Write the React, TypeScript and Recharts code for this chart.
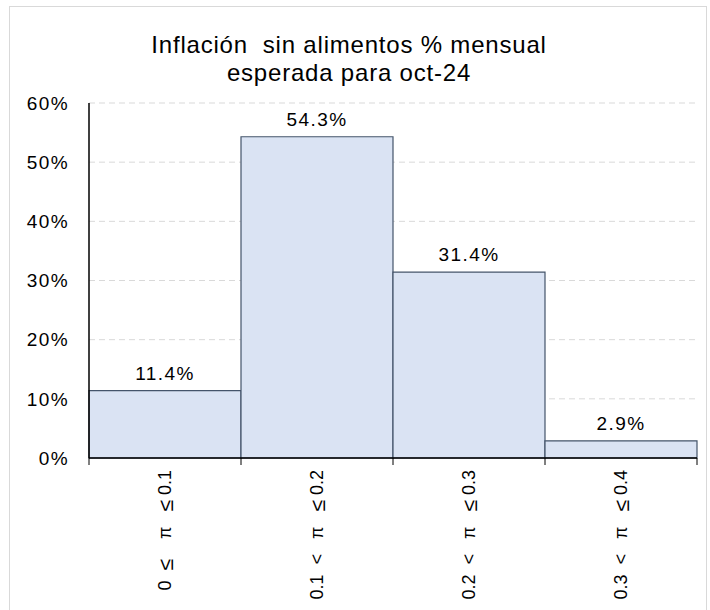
import React from 'react';
import { BarChart, Bar, XAxis, YAxis, CartesianGrid, LabelList } from 'recharts';

const categories = ['0  ≤    π   ≤ 0.1', '0.1  <   π   ≤ 0.2', '0.2  <   π   ≤ 0.3', '0.3  <   π   ≤ 0.4'];
const shares = [11.4, 54.3, 31.4, 2.9];
const yTicks = [0, 10, 20, 30, 40, 50, 60];
const titleLines = ['Inflación  sin alimentos % mensual', 'esperada para oct-24'];

const data = categories.map((range, i) => ({ range, share: shares[i] }));

const W = 710;
const H = 610;
const MARGIN = { top: 103, right: 13, bottom: 12, left: 29 };
const Y_AXIS_W = 60;
const X_AXIS_H = 140;
const PLOT_W = W - MARGIN.left - MARGIN.right - Y_AXIS_W;
const HALF_BAND = PLOT_W / categories.length / 2;
const FONT = '"Liberation Sans", Arial, sans-serif';

// the ≤ glyph comes out small in Liberation Sans, so bump it a little
function renderRange(label: string) {
    return label.split(/(≤)/).map((part, i) =>
        part === '≤' ? <tspan key={i} fontSize={21}>{part}</tspan> : <tspan key={i}>{part}</tspan>
    );
}

function RangeTick(props: any) {
    const { x, y, payload, index } = props;
    const ty = y + 12;
    return (
        <g>
            <line x1={x - HALF_BAND} y1={y} x2={x - HALF_BAND} y2={y + 7} stroke="#000" />
            {index === categories.length - 1 && (
                <line x1={x + HALF_BAND} y1={y} x2={x + HALF_BAND} y2={y + 7} stroke="#000" />
            )}
            <text
                x={x}
                y={ty}
                transform={`rotate(-90, ${x}, ${ty})`}
                textAnchor="end"
                dominantBaseline="central"
                fontSize={18}
                fontFamily={FONT}
                fill="#000"
                style={{ whiteSpace: 'pre' }}
            >
                {renderRange(payload.value)}
            </text>
        </g>
    );
}

export default function App() {
    return (
        <div style={{ position: 'absolute', left: 0, top: 0, width: W, height: H, background: '#fff', overflow: 'hidden', fontFamily: FONT }}>
            <div style={{ position: 'absolute', left: 9, top: 6, width: 698, height: 620, border: '1px solid #d9d9d9', boxSizing: 'border-box' }} />
            <div style={{ position: 'absolute', left: 0, top: 31, width: 698, textAlign: 'center', fontSize: 24, letterSpacing: 0.8, lineHeight: '28px', color: '#000' }}>
                {titleLines.map((t) => (
                    <div key={t} style={{ whiteSpace: 'pre' }}>{t}</div>
                ))}
            </div>
            <div style={{ position: 'absolute', left: 0, top: 0 }}>
                <BarChart width={W} height={H} data={data} margin={MARGIN} barCategoryGap={0} barGap={0}>
                    <CartesianGrid vertical={false} stroke="#d9d9d9" strokeDasharray="6 4" />
                    <XAxis
                        dataKey="range"
                        height={X_AXIS_H}
                        interval={0}
                        tickLine={false}
                        tickSize={0}
                        tickMargin={0}
                        axisLine={{ stroke: '#000', strokeWidth: 1.5 }}
                        tick={<RangeTick />}
                    />
                    <YAxis
                        width={Y_AXIS_W}
                        domain={[0, 60]}
                        ticks={yTicks}
                        tickFormatter={(v: number) => `${v}%`}
                        tickLine={false}
                        tickSize={0}
                        tickMargin={20}
                        axisLine={{ stroke: '#000', strokeWidth: 1.5 }}
                        tick={{ fill: '#000', fontSize: 19, fontFamily: FONT, letterSpacing: 1.4 }}
                    />
                    <Bar dataKey="share" fill="#dae3f3" stroke="#44546a" strokeWidth={1.2} isAnimationActive={false}>
                        <LabelList
                            dataKey="share"
                            position="top"
                            offset={11}
                            formatter={(v: any) => `${Number(v).toFixed(1)}%`}
                            style={{ fill: '#000', fontSize: 19, fontFamily: FONT, letterSpacing: 1.4 }}
                        />
                    </Bar>
                </BarChart>
            </div>
        </div>
    );
}
